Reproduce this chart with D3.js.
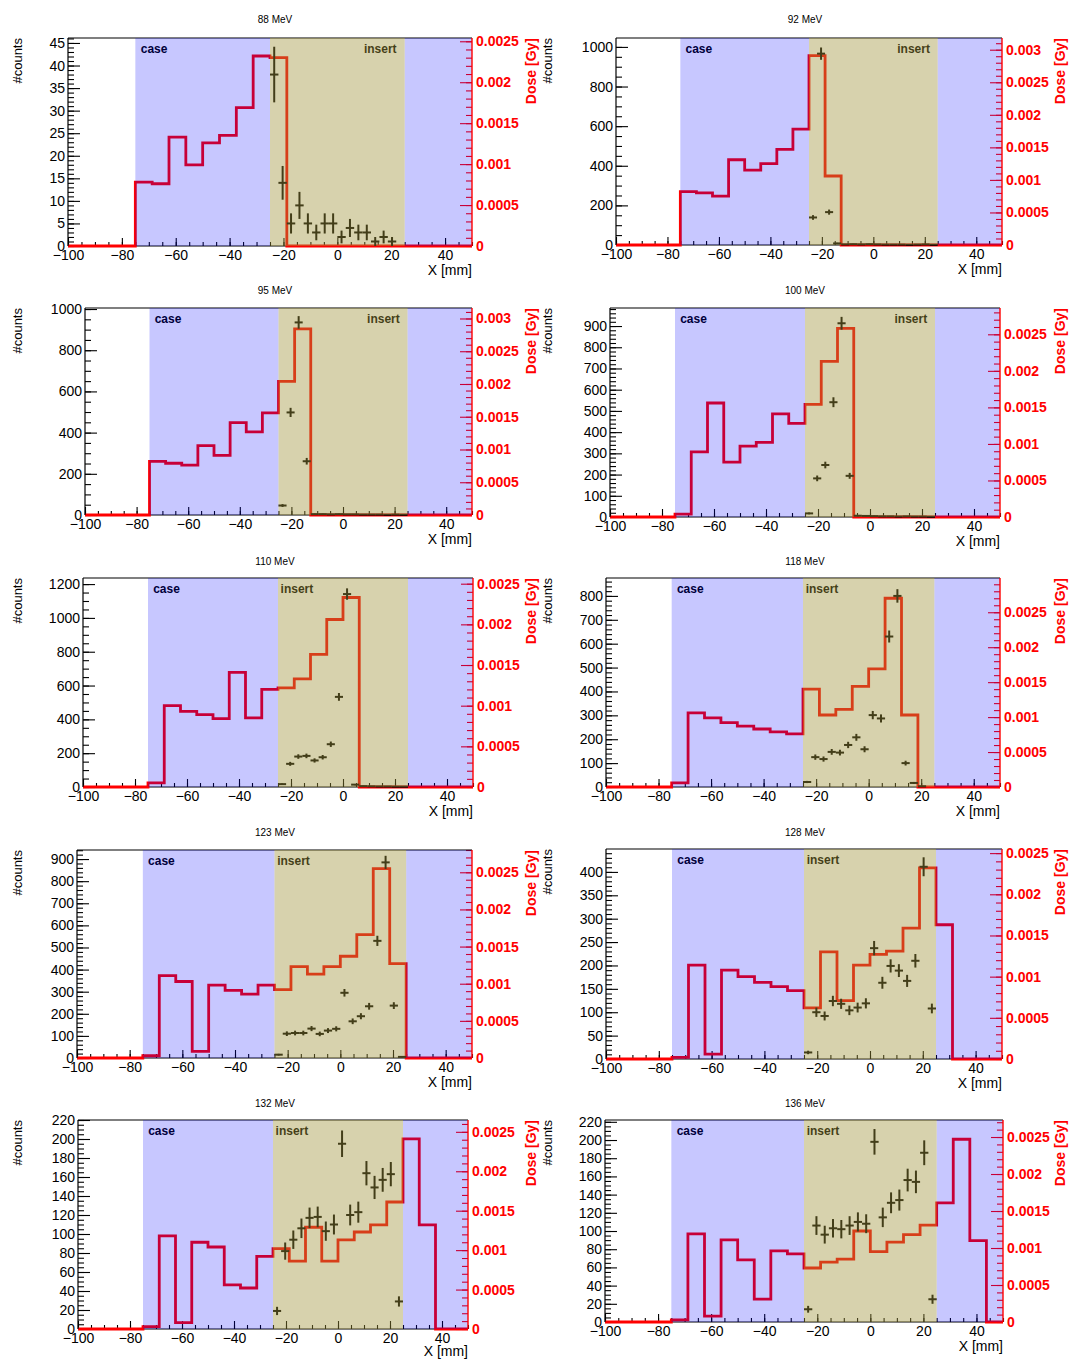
<!DOCTYPE html>
<html>
<head>
<meta charset="utf-8">
<script src="https://cdn.jsdelivr.net/npm/d3@7/dist/d3.min.js"></script>
<style>
  body { margin: 0; background: #fff; }
  svg text { font-family: "Liberation Sans", Arial, Helvetica, sans-serif; }
</style>
</head>
<body>
<svg id="chart" width="1070" height="1360"></svg>
<script>
"use strict";

// === Data ===
const energies = ["88 MeV", "92 MeV", "95 MeV", "100 MeV", "110 MeV",
                  "118 MeV", "123 MeV", "128 MeV", "132 MeV", "136 MeV"];

// dose histogram bin edges [mm]
const doseBinEdges = [-100, -93.75, -87.5, -81.25, -75, -68.75, -62.5, -56.25, -50, -43.75,
                      -37.5, -31.25, -25, -18.75, -12.5, -6.25, 0, 6.25, 12.5, 18.75,
                      25, 31.25, 37.5, 43.75, 50];
// measured-count points: bin centres [mm], half bin width
const pointCenters = [-23.4375, -20.3125, -17.1875, -14.0625, -10.9375, -7.8125, -4.6875, -1.5625,
                      1.5625, 4.6875, 7.8125, 10.9375, 14.0625, 17.1875, 20.3125, 23.4375];
const pointHalfWidth = 1.5625;

// simulated dose per bin [Gy]
const dose88  = [0, 0, 0, 0, 0.00078, 0.00076, 0.00133, 0.00099, 0.00126, 0.00135, 0.00169, 0.00232,
                 0.00230, 0, 0, 0, 0, 0, 0, 0, 0, 0, 0, 0];
const dose92  = [0, 0, 0, 0, 0.00082, 0.00080, 0.00075, 0.00131, 0.00115, 0.00125, 0.00147, 0.00178,
                 0.00291, 0.00106, 0, 0, 0, 0, 0, 0, 0, 0, 0, 0];
const dose95  = [0, 0, 0, 0, 0.00082, 0.00079, 0.00076, 0.00106, 0.00091, 0.00141, 0.00127, 0.00156,
                 0.00204, 0.00284, 0, 0, 0, 0, 0, 0, 0, 0, 0, 0];
const dose100 = [0, 0, 0, 0, 0.00004, 0.00089, 0.00156, 0.00075, 0.00097, 0.00102, 0.00141, 0.00128,
                 0.00154, 0.00213, 0.00258, 0, 0, 0, 0, 0, 0, 0, 0, 0];
const dose110 = [0, 0, 0, 0, 0.00005, 0.00100, 0.00093, 0.00089, 0.00084, 0.00141, 0.00085, 0.00120,
                 0.00122, 0.00133, 0.00163, 0.00206, 0.00233, 0, 0, 0, 0, 0, 0, 0];
const dose118 = [0, 0, 0, 0, 0.00006, 0.00106, 0.00099, 0.00092, 0.00087, 0.00083, 0.00079, 0.00076,
                 0.00140, 0.00103, 0.00111, 0.00144, 0.00169, 0.00270, 0.00103, 0, 0, 0, 0, 0];
const dose123 = [0, 0, 0, 0, 0.00003, 0.00111, 0.00103, 0.00009, 0.00098, 0.00091, 0.00086, 0.00098,
                 0.00092, 0.00123, 0.00113, 0.00123, 0.00137, 0.00166, 0.00255, 0.00127, 0, 0, 0, 0];
const dose128 = [0, 0, 0, 0, 0.00002, 0.00114, 0.00006, 0.00108, 0.00100, 0.00093, 0.00088, 0.00083,
                 0.00062, 0.00130, 0.00071, 0.00114, 0.00127, 0.00131, 0.00159, 0.00232, 0.00163, 0, 0, 0];
const dose132 = [0, 0, 0, 0, 0.00003, 0.00118, 0.00008, 0.00110, 0.00104, 0.00056, 0.00052, 0.00092,
                 0.00102, 0.00086, 0.00129, 0.00086, 0.00113, 0.00123, 0.00132, 0.00161, 0.00241, 0.00132, 0, 0];
const dose136 = [0, 0, 0, 0, 0.00003, 0.00119, 0.00008, 0.00111, 0.00084, 0.00031, 0.00096, 0.00092,
                 0.00073, 0.00081, 0.00085, 0.00123, 0.00095, 0.00108, 0.00118, 0.00131, 0.00161, 0.00247, 0.00110, 0];

// measured counts per point
const counts88  = [38, 14, 5, 9, 5, 3, 5, 5, 2, 4, 3, 3, 1, 2, 1, 0];
const counts92  = [139, 966, 166, 8, 3, 4, 3, 4, 3, 2, 2, 2, 1, 2, 3, 1];
const counts95  = [46, 498, 935, 261, 4, 4, 3, 4, 3, 3, 2, 2, 2, 1, 2, 1];
const counts100 = [17, 182, 245, 541, 913, 194, 6, 5, 4, 3, 3, 2, 3, 2, 2, 1];
const counts110 = [17, 137, 180, 184, 157, 176, 253, 533, 1141, 14, 5, 4, 3, 3, 2, 2];
const counts118 = [21, 125, 117, 147, 144, 176, 208, 158, 301, 287, 630, 800, 100, 17, 3, 0];
const counts123 = [15, 110, 113, 113, 133, 109, 124, 132, 295, 166, 189, 234, 530, 885, 237, 5];
const counts128 = [14, 100, 92, 124, 118, 104, 110, 119, 237, 163, 199, 189, 167, 210, 411, 108];
const counts132 = [19, 82, 94, 106, 117, 118, 103, 110, 195, 120, 123, 164, 149, 157, 163, 29];
const counts136 = [14, 106, 96, 103, 102, 106, 110, 108, 198, 115, 131, 134, 156, 154, 186, 25];

const doseSeries = [dose88, dose92, dose95, dose100, dose110, dose118, dose123, dose128, dose132, dose136];
const countSeries = [counts88, counts92, counts95, counts100, counts110, counts118, counts123, counts128, counts132, counts136];

// axis ranges and tick steps
const countsTop   = [46.1, 1045, 1005, 985, 1236, 875, 941, 449, 220, 222];
const countsStep  = [5, 200, 200, 100, 200, 100, 100, 50, 20, 20];
const countsMinor = [1, 50, 50, 20, 50, 20, 20, 10, 5, 5];
const doseTop     = [0.00254, 0.00318, 0.00316, 0.00286, 0.00257, 0.00299, 0.0028, 0.00255, 0.00265, 0.00273];
const xTicks = [-100, -80, -60, -40, -20, 0, 20, 40];

// === Layout (frame box of each pad, px) ===
const frames = [
  { l: 68,  r: 472,  t: 38,   b: 246 },
  { l: 616, r: 1002, t: 38,   b: 245 },
  { l: 85,  r: 472,  t: 308,  b: 515 },
  { l: 610, r: 1000, t: 308,  b: 517 },
  { l: 83,  r: 473,  t: 578,  b: 787 },
  { l: 606, r: 1000, t: 578,  b: 787 },
  { l: 77,  r: 472,  t: 850,  b: 1058 },
  { l: 606, r: 1002, t: 849,  b: 1059 },
  { l: 78,  r: 468,  t: 1120, b: 1329 },
  { l: 605, r: 1003, t: 1120, b: 1322 }
];
const insertAtRight = [true, true, true, true, false, false, false, false, false, false];

const svg = d3.select("#chart");

function range(step, top) {
  const n = Math.floor(top / step + 1e-6);
  return d3.range(0, n + 1).map(k => +(k * step).toPrecision(8));
}

function styleAxis(g, color, size, weight) {
  g.attr("font-size", size).attr("font-family", null).attr("font-weight", weight);
  g.selectAll(".domain").remove();
  g.selectAll(".tick line").attr("stroke", color).attr("stroke-width", 1.1);
  g.selectAll(".tick text").attr("fill", color);
}

function drawPanel(i) {
  const f = frames[i];
  const col = i % 2, row = Math.floor(i / 2);
  const g = svg.append("g");

  const x = d3.scaleLinear().domain([-100, 50]).range([f.l, f.r]);
  const yC = d3.scaleLinear().domain([0, countsTop[i]]).range([f.b, f.t]);
  const yD = d3.scaleLinear().domain([0, doseTop[i]]).range([f.b, f.t]);

  // === Axes (drawn under the shaded regions) ===
  const minorX = d3.range(-100, 51, 5);
  g.append("g").attr("transform", `translate(0,${f.b})`)
    .call(d3.axisBottom(x).tickValues(minorX).tickSize(-4).tickFormat(""))
    .call(s => styleAxis(s, "#000", 14, "normal"));
  g.append("g").attr("transform", `translate(0,${f.b})`)
    .call(d3.axisBottom(x).tickValues(xTicks).tickSize(-8).tickPadding(4).tickFormat(d3.format("d")))
    .call(s => styleAxis(s, "#000", 14, "normal"));

  g.append("g").attr("transform", `translate(${f.l},0)`)
    .call(d3.axisLeft(yC).tickValues(range(countsMinor[i], countsTop[i])).tickSize(-6).tickFormat(""))
    .call(s => styleAxis(s, "#000", 14, "normal"));
  g.append("g").attr("transform", `translate(${f.l},0)`)
    .call(d3.axisLeft(yC).tickValues(range(countsStep[i], countsTop[i])).tickSize(-12).tickPadding(3)
      .tickFormat(d3.format("d")))
    .call(s => styleAxis(s, "#000", 14, "normal"));

  g.append("g").attr("transform", `translate(${f.r},0)`)
    .call(d3.axisRight(yD).tickValues(range(0.0001, doseTop[i])).tickSize(-6).tickFormat(""))
    .call(s => styleAxis(s, "red", 14, "bold"));
  g.append("g").attr("transform", `translate(${f.r},0)`)
    .call(d3.axisRight(yD).tickValues(range(0.0005, doseTop[i])).tickSize(-12).tickPadding(4)
      .tickFormat(d3.format("~g")))
    .call(s => styleAxis(s, "red", 14, "bold"));

  // frame box
  g.append("line").attr("x1", f.l).attr("x2", f.r).attr("y1", f.t).attr("y2", f.t)
    .attr("stroke", "#000").attr("stroke-width", 1.2);
  g.append("line").attr("x1", f.l).attr("x2", f.r).attr("y1", f.b).attr("y2", f.b)
    .attr("stroke", "#000").attr("stroke-width", 1.2);

  // === Dose histogram ===
  const dose = doseSeries[i];
  const steps = doseBinEdges.map((e, k) => [e, dose[Math.min(k, dose.length - 1)]]);
  const line = d3.line().x(d => x(d[0])).y(d => yD(d[1])).curve(d3.curveStepAfter);
  g.append("path").attr("d", line(steps))
    .attr("fill", "none").attr("stroke", "red").attr("stroke-width", 2.8);

  // === Measured counts with errors ===
  const counts = countSeries[i];
  const pts = pointCenters.map((c, k) => ({ c: c, n: counts[k] })).filter(p => p.n > 0);
  const pg = g.append("g").attr("stroke", "#000").attr("stroke-width", 2);
  pts.forEach(p => {
    const err = Math.sqrt(p.n);
    pg.append("line")
      .attr("x1", x(p.c)).attr("x2", x(p.c))
      .attr("y1", yC(Math.max(0, p.n - err))).attr("y2", yC(p.n + err));
    pg.append("line")
      .attr("x1", x(p.c - pointHalfWidth)).attr("x2", x(p.c + pointHalfWidth))
      .attr("y1", yC(p.n)).attr("y2", yC(p.n));
  });

  // === Region labels ===
  g.append("text").attr("x", x(-73)).attr("y", f.t + 15)
    .attr("font-size", 12).attr("font-weight", "bold").attr("fill", "#000").text("case");
  g.append("text").attr("x", insertAtRight[i] ? x(22) : x(-24)).attr("y", f.t + 15)
    .attr("text-anchor", insertAtRight[i] ? "end" : "start")
    .attr("font-size", 12).attr("font-weight", "bold").attr("fill", "#000").text("insert");

  // === Shaded regions (translucent, over the marks) ===
  g.append("rect").attr("x", x(-75)).attr("y", f.t).attr("width", x(-25) - x(-75)).attr("height", f.b - f.t)
    .attr("fill", "#0000ff").attr("fill-opacity", 0.22);
  g.append("rect").attr("x", x(25)).attr("y", f.t).attr("width", x(50) - x(25)).attr("height", f.b - f.t)
    .attr("fill", "#0000ff").attr("fill-opacity", 0.22);
  g.append("rect").attr("x", x(-25)).attr("y", f.t).attr("width", x(25) - x(-25)).attr("height", f.b - f.t)
    .attr("fill", "rgb(160,148,60)").attr("fill-opacity", 0.42);

  // axis lines on top
  g.append("line").attr("x1", f.l).attr("x2", f.l).attr("y1", f.t).attr("y2", f.b)
    .attr("stroke", "#000").attr("stroke-width", 1.2);
  g.append("line").attr("x1", f.r).attr("x2", f.r).attr("y1", f.t).attr("y2", f.b)
    .attr("stroke", "red").attr("stroke-width", 1.4);

  // === Titles ===
  g.append("text").attr("x", col === 0 ? 275 : 805).attr("y", 19 + row * 271)
    .attr("text-anchor", "middle").attr("dominant-baseline", "central")
    .attr("font-size", 10).attr("fill", "#000").text(energies[i]);

  g.append("text")
    .attr("transform", `translate(${col === 0 ? 22 : 552},${f.t}) rotate(-90)`)
    .attr("text-anchor", "end").attr("font-size", 13).attr("fill", "#000").text("#counts");

  g.append("text")
    .attr("transform", `translate(${col === 0 ? 536 : 1065},${f.t}) rotate(-90)`)
    .attr("text-anchor", "end").attr("font-size", 14).attr("font-weight", "bold")
    .attr("fill", "red").text("Dose [Gy]");

  g.append("text").attr("x", f.r).attr("y", Math.min(f.b + 24, 1351))
    .attr("text-anchor", "end").attr("dominant-baseline", "central")
    .attr("font-size", 14).attr("fill", "#000").text("X [mm]");
}

energies.forEach((e, i) => drawPanel(i));
</script>
</body>
</html>
